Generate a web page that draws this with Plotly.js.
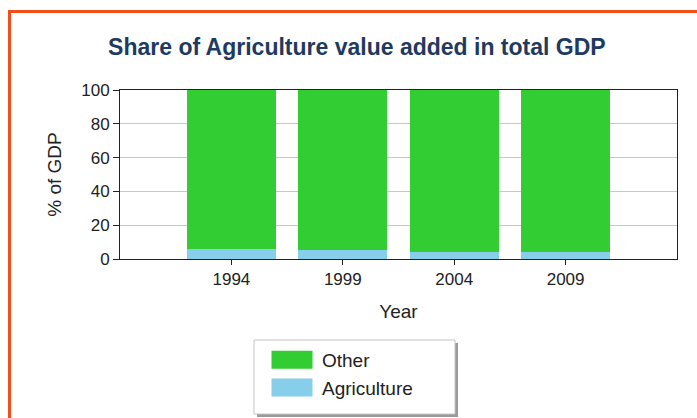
<!DOCTYPE html>
<html>
<head>
<meta charset="utf-8">
<script src="https://cdn.plot.ly/plotly-3.0.1.min.js"></script>
<style>
  html, body { margin: 0; padding: 0; background: #ffffff; width: 697px; height: 418px; overflow: hidden; }
  #frame { position: absolute; left: 8px; top: 10px; width: 720px; height: 440px;
           border-left: 3px solid #f0501a; border-top: 3px solid #f0501a; box-sizing: border-box; }
  #chart { position: absolute; left: 0; top: 0; width: 697px; height: 418px; }
</style>
</head>
<body>
<div id="frame"></div>
<div id="chart"></div>
<script>
const years = ['1994', '1999', '2004', '2009'];
const agriculture = [6.2, 5.3, 4.3, 4.2];
const other = [93.8, 94.7, 95.7, 95.8];
const yTicks = [0, 20, 40, 60, 80, 100];

const FONT = '"Liberation Sans", Arial, sans-serif';

const traces = [
  { type: 'bar', name: 'Agriculture', x: years, y: agriculture,
    marker: { color: '#87ceeb', line: { width: 0 } }, hoverinfo: 'skip' },
  { type: 'bar', name: 'Other', x: years, y: other,
    marker: { color: '#32cd32', line: { width: 0 } }, hoverinfo: 'skip' }
];

const px = (x) => (x - 120) / 557;
const py = (y) => (259 - y) / 169;

const layout = {
  width: 697, height: 418,
  margin: { l: 120, r: 20, t: 90, b: 159, autoexpand: false },
  paper_bgcolor: 'rgba(0,0,0,0)',
  plot_bgcolor: '#ffffff',
  barmode: 'stack',
  bargap: 0.2,
  font: { family: FONT, color: '#222222', size: 17 },
  title: { text: 'Share of Agriculture value added in total GDP',
           font: { family: FONT, size: 23, color: '#1f3a60', weight: 'bold' },
           x: 0.512, xanchor: 'center', y: 1 - 47 / 418, yanchor: 'middle', yref: 'container' },
  xaxis: {
    type: 'category', range: [-1, 4],
    showline: true, linecolor: '#222222', linewidth: 1, mirror: true,
    ticks: 'outside', ticklen: 5, tickcolor: '#222222',
    showgrid: false, zeroline: false,
    tickfont: { size: 17, color: '#222222' },
    title: { text: 'Year', font: { size: 19, color: '#222222' }, standoff: 16 }
  },
  yaxis: {
    range: [0, 100], tickvals: yTicks, ticktext: yTicks.map(String),
    showline: true, linecolor: '#222222', linewidth: 1, mirror: true,
    ticks: 'outside', ticklen: 6, tickcolor: '#222222',
    showgrid: true, gridcolor: '#c8c8c8', gridwidth: 1, zeroline: false,
    tickfont: { size: 17, color: '#222222' },
    title: { text: '% of GDP', font: { size: 19, color: '#222222' }, standoff: 14 }
  },
  showlegend: true,
  legend: {
    traceorder: 'reversed',
    x: px(262), xanchor: 'left', y: py(341), yanchor: 'top',
    bgcolor: 'rgba(0,0,0,0)', borderwidth: 0,
    font: { size: 19, color: '#222222' },
    itemwidth: 50, itemclick: false, itemdoubleclick: false
  },
  shapes: [
    { type: 'rect', xref: 'paper', yref: 'paper', layer: 'above',
      x0: px(257), x1: px(458), y0: py(417), y1: py(343),
      fillcolor: '#9a9a9a', line: { width: 0 } },
    { type: 'rect', xref: 'paper', yref: 'paper', layer: 'above',
      x0: px(254), x1: px(455), y0: py(414), y1: py(340),
      fillcolor: '#ffffff', line: { color: '#c4c4c4', width: 1 } }
  ]
};

Plotly.newPlot('chart', traces, layout, { displayModeBar: false, staticPlot: true }).then(function (gd) {
  gd.querySelectorAll('.legend .legendpoints path').forEach(function (p) {
    p.setAttribute('d', 'M-20.5,9H20.5V-9H-20.5Z');
    p.style.strokeWidth = '0';
  });
});
</script>
</body>
</html>
